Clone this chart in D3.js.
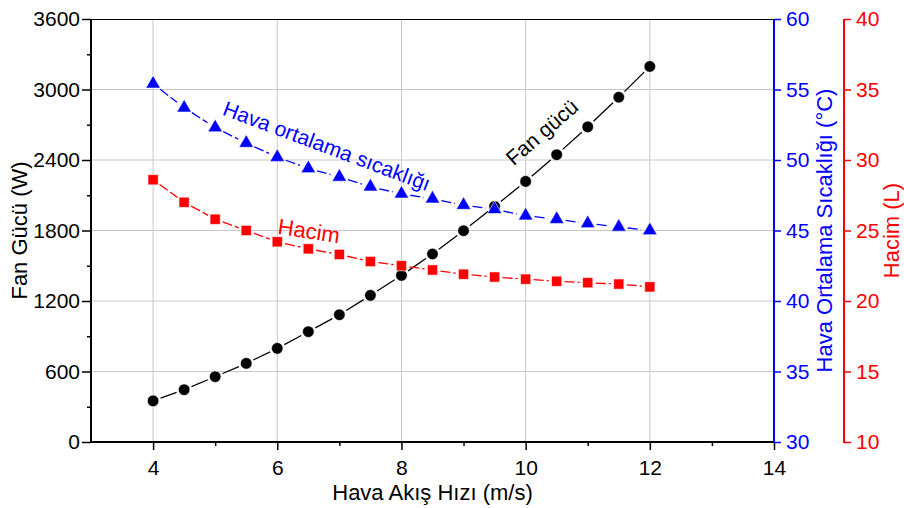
<!DOCTYPE html>
<html>
<head>
<meta charset="utf-8">
<script src="https://cdn.jsdelivr.net/npm/d3@7"></script>
<style>
  body { margin: 0; background: #fff; }
  text { font-family: "Liberation Sans", Arial, sans-serif; }
</style>
</head>
<body>
<svg id="chart" width="904" height="508"></svg>
<script>
// air flow speed (m/s)
var airSpeed = [4, 4.5, 5, 5.5, 6, 6.5, 7, 7.5, 8, 8.5, 9, 9.5, 10, 10.5, 11, 11.5, 12];
// fan power (W)
var fanPower = [350, 445, 556, 669, 797, 939, 1083, 1248, 1418, 1600, 1798, 2005, 2218, 2445, 2682, 2934, 3196];
// average air temperature (°C)
var airTemp = [55.4, 53.7, 52.3, 51.2, 50.2, 49.4, 48.8, 48.1, 47.6, 47.25, 46.8, 46.5, 46.05, 45.8, 45.5, 45.25, 45.0];
// volume (L)
var volume = [28.6, 27.0, 25.8, 25.0, 24.2, 23.7, 23.3, 22.8, 22.5, 22.2, 21.9, 21.7, 21.55, 21.4, 21.3, 21.2, 21.0];

var xTicks = [4, 6, 8, 10, 12, 14];
var xMinor = [5, 7, 9, 11, 13];
var leftTicks = [0, 600, 1200, 1800, 2400, 3000, 3600];
var leftMinor = [300, 900, 1500, 2100, 2700, 3300];
var blueTicks = [30, 35, 40, 45, 50, 55, 60];
var redTicks = [10, 15, 20, 25, 30, 35, 40];

var svg = d3.select("#chart");
var plotL = 91, plotR = 774, plotT = 19, plotB = 442;
var redAxisX = 844;
var tickFont = "21px", titleFont = "22px", noteFont = "21px";

var x = d3.scaleLinear().domain([3, 14]).range([plotL, plotR]);
var yFan = d3.scaleLinear().domain([0, 3600]).range([plotB, plotT]);
var yTemp = d3.scaleLinear().domain([30, 60]).range([plotB, plotT]);
var yVol = d3.scaleLinear().domain([10, 40]).range([plotB, plotT]);

// grid
var grid = svg.append("g").attr("stroke", "#c8c8c8").attr("stroke-width", 1);
xTicks.filter(d => d < 14).forEach(function(d) {
  grid.append("line").attr("x1", x(d)).attr("x2", x(d)).attr("y1", plotT).attr("y2", plotB);
});
leftTicks.filter(d => d > 0 && d < 3600).forEach(function(d) {
  grid.append("line").attr("x1", plotL).attr("x2", plotR).attr("y1", yFan(d)).attr("y2", yFan(d));
});

// top border
svg.append("line").attr("x1", plotL).attr("x2", plotR).attr("y1", plotT + 0.5).attr("y2", plotT + 0.5)
  .attr("stroke", "#000").attr("stroke-width", 1);

// axes
function styleAxis(g, color) {
  g.select(".domain").remove();
  g.selectAll(".tick line").attr("stroke", color).attr("stroke-width", 1.5);
  g.selectAll(".tick text").attr("fill", color).style("font-size", tickFont)
    .style("font-family", "'Liberation Sans', Arial, sans-serif");
}

var gx = svg.append("g").attr("transform", "translate(0," + plotB + ")")
  .call(d3.axisBottom(x).tickValues(xTicks).tickSize(8).tickPadding(10).tickFormat(d3.format("d")));
styleAxis(gx, "#000");
svg.append("g").attr("transform", "translate(0," + plotB + ")")
  .call(d3.axisBottom(x).tickValues(xMinor).tickSize(4).tickFormat(""))
  .call(g => { g.select(".domain").remove(); g.selectAll("line").attr("stroke", "#000").attr("stroke-width", 1.5); });

var gl = svg.append("g").attr("transform", "translate(" + plotL + ",0)")
  .call(d3.axisLeft(yFan).tickValues(leftTicks).tickSize(9).tickPadding(2).tickFormat(d3.format("d")));
styleAxis(gl, "#000");
svg.append("g").attr("transform", "translate(" + plotL + ",0)")
  .call(d3.axisLeft(yFan).tickValues(leftMinor).tickSize(4).tickFormat(""))
  .call(g => { g.select(".domain").remove(); g.selectAll("line").attr("stroke", "#000").attr("stroke-width", 1.5); });

var gb = svg.append("g").attr("transform", "translate(" + plotR + ",0)")
  .call(d3.axisRight(yTemp).tickValues(blueTicks).tickSize(7).tickPadding(5));
styleAxis(gb, "#0000ff");

var gr = svg.append("g").attr("transform", "translate(" + redAxisX + ",0)")
  .call(d3.axisRight(yVol).tickValues(redTicks).tickSize(7).tickPadding(5));
styleAxis(gr, "#ff0000");

// axis lines
svg.append("line").attr("x1", plotL).attr("x2", plotR + 1).attr("y1", plotB).attr("y2", plotB)
  .attr("stroke", "#000").attr("stroke-width", 2);
svg.append("line").attr("x1", plotL).attr("x2", plotL).attr("y1", plotT).attr("y2", plotB + 1)
  .attr("stroke", "#000").attr("stroke-width", 2);
svg.append("line").attr("x1", plotR).attr("x2", plotR).attr("y1", plotT).attr("y2", plotB + 1)
  .attr("stroke", "#0000ff").attr("stroke-width", 2);
svg.append("line").attr("x1", redAxisX).attr("x2", redAxisX).attr("y1", plotT).attr("y2", plotB + 1)
  .attr("stroke", "#ff0000").attr("stroke-width", 2);

// series: segments with a small gap to each symbol
function drawSeries(values, yScale, color, dash, gap, symbol, size) {
  var pts = airSpeed.map((d, i) => [x(d), yScale(values[i])]);
  var g = svg.append("g");
  for (var i = 0; i < pts.length - 1; i++) {
    var p = pts[i], q = pts[i + 1];
    var dx = q[0] - p[0], dy = q[1] - p[1];
    var len = Math.sqrt(dx * dx + dy * dy);
    if (len <= 2 * gap) continue;
    var ux = dx / len, uy = dy / len;
    g.append("line")
      .attr("x1", p[0] + ux * gap).attr("y1", p[1] + uy * gap)
      .attr("x2", q[0] - ux * gap).attr("y2", q[1] - uy * gap)
      .attr("stroke", color).attr("stroke-width", 1.3)
      .attr("stroke-dasharray", dash);
  }
  g.selectAll("path.sym").data(pts).join("path")
    .attr("class", "sym")
    .attr("transform", d => "translate(" + d[0] + "," + d[1] + ")")
    .attr("d", d3.symbol().type(symbol).size(size))
    .attr("fill", color)
    .attr("stroke", "#fff").attr("stroke-width", 0.6);
}

drawSeries(fanPower, yFan, "#000", null, 8, d3.symbolCircle, 105);
drawSeries(airTemp, yTemp, "#0000ff", "10,3", 9, d3.symbolTriangle, 92);
drawSeries(volume, yVol, "#ff0000", "10,3", 8, d3.symbolSquare, 105);

// series annotations
svg.append("text")
  .attr("transform", "translate(" + x(6.8) + "," + yTemp(51.0) + ") rotate(20.5)")
  .attr("text-anchor", "middle").attr("dominant-baseline", "central")
  .attr("fill", "#0000ff").style("font-size", noteFont)
  .text("Hava ortalama sıcaklığı");

svg.append("text")
  .attr("transform", "translate(" + x(10.26) + "," + yFan(2638) + ") rotate(-41)")
  .attr("text-anchor", "middle").attr("dominant-baseline", "central")
  .attr("fill", "#000").style("font-size", noteFont)
  .text("Fan gücü");

svg.append("text")
  .attr("transform", "translate(" + x(6.51) + "," + yVol(24.96) + ") rotate(8.5)")
  .attr("text-anchor", "middle").attr("dominant-baseline", "central")
  .attr("fill", "#ff0000").style("font-size", "22px")
  .text("Hacim");

// axis titles
svg.append("text")
  .attr("x", (plotL + plotR) / 2).attr("y", 500)
  .attr("text-anchor", "middle").attr("fill", "#000").style("font-size", titleFont)
  .text("Hava Akış Hızı (m/s)");

svg.append("text")
  .attr("transform", "translate(27," + (plotT + plotB) / 2 + ") rotate(-90)")
  .attr("text-anchor", "middle").attr("fill", "#000").style("font-size", titleFont)
  .text("Fan Gücü (W)");

svg.append("text")
  .attr("transform", "translate(832," + (plotT + plotB) / 2 + ") rotate(-90)")
  .attr("text-anchor", "middle").attr("fill", "#0000ff").style("font-size", titleFont)
  .text("Hava Ortalama Sıcaklığı (°C)");

svg.append("text")
  .attr("transform", "translate(899," + (plotT + plotB) / 2 + ") rotate(-90)")
  .attr("text-anchor", "middle").attr("fill", "#ff0000").style("font-size", titleFont)
  .text("Hacim (L)");
</script>
</body>
</html>
